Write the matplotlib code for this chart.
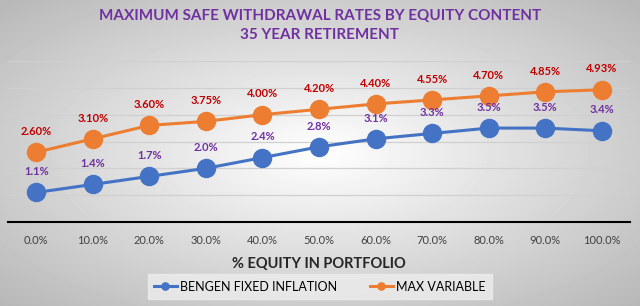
import numpy as np
import matplotlib.pyplot as plt

categories = ['0.0%', '10.0%', '20.0%', '30.0%', '40.0%', '50.0%',
              '60.0%', '70.0%', '80.0%', '90.0%', '100.0%']
bengen = [1.1, 1.4, 1.7, 2.0, 2.4, 2.8, 3.1, 3.3, 3.5, 3.5, 3.4]
max_variable = [2.60, 3.10, 3.60, 3.75, 4.00, 4.20, 4.40, 4.55, 4.70, 4.85, 4.93]

plt.rcParams['font.family'] = ['Lato', 'DejaVu Sans']

fig = plt.figure(figsize=(6.4, 3.06), dpi=100)

# radial gray background
bg = fig.add_axes([0, 0, 1, 1], zorder=-10)
yy, xx = np.mgrid[-1:1:306j, -1:1:640j]
r = np.sqrt((xx / 1.1) ** 2 + (yy / 1.1) ** 2)
bg.imshow(1 - 0.22 * np.clip(r, 0, 1.3), cmap='gray', vmin=0, vmax=1,
          aspect='auto', extent=[0, 1, 0, 1])
bg.axis('off')

ax = fig.add_axes([8 / 640, 1 - 222 / 306, 622 / 640, 161 / 306])
ax.patch.set_alpha(0)
x = np.arange(len(categories))

ax.plot(x, bengen, color='#4472C4', lw=2.2, marker='o', ms=13,
        label='BENGEN FIXED INFLATION', zorder=3)
ax.plot(x, max_variable, color='#ED7D31', lw=2.2, marker='o', ms=13,
        label='MAX VARIABLE', zorder=3)

for xi, v in zip(x, bengen):
    ax.annotate(f'{v:.1f}%', (xi, v), xytext=(0, 11), textcoords='offset points',
                ha='center', va='bottom', color='#7030A0', fontsize=8,
                fontweight='bold')
for xi, v in zip(x, max_variable):
    ax.annotate(f'{v:.2f}%', (xi, v), xytext=(0, 11), textcoords='offset points',
                ha='center', va='bottom', color='#C00000', fontsize=8,
                fontweight='bold')

ax.set_xlim(-0.5, len(categories) - 0.5)
ax.set_ylim(0, 6)
ax.set_yticks([1, 2, 3, 4, 5, 6])
ax.yaxis.grid(True, color='#D0D0D0', lw=0.9)
ax.set_yticklabels([])
ax.tick_params(axis='y', length=0)
ax.set_xticks(x)
ax.set_xticklabels(categories, fontsize=8, color='#404040')
ax.tick_params(axis='x', length=0, pad=9)
for s in ['top', 'right', 'left']:
    ax.spines[s].set_visible(False)
ax.spines['bottom'].set_color('black')
ax.spines['bottom'].set_linewidth(1.5)

ax.set_xlabel('% EQUITY IN PORTFOLIO', fontsize=10.5, fontweight='bold',
              color='#262626', labelpad=8)

fig.suptitle('MAXIMUM SAFE WITHDRAWAL RATES BY EQUITY CONTENT\n35 YEAR RETIREMENT',
             y=0.97, fontsize=11, fontweight='bold', color='#7030A0',
             linespacing=1.45)

leg = fig.legend(loc='center', bbox_to_anchor=(0.5, 0.063), ncol=2,
                 fontsize=9, frameon=True, fancybox=False, markerscale=0.4,
                 handlelength=1.8, handletextpad=0.3, columnspacing=2.6,
                 borderpad=0.5)
leg.get_frame().set_facecolor('#EDEDED')
leg.get_frame().set_edgecolor('#EDEDED')

fig.savefig('out.png', dpi=100)
